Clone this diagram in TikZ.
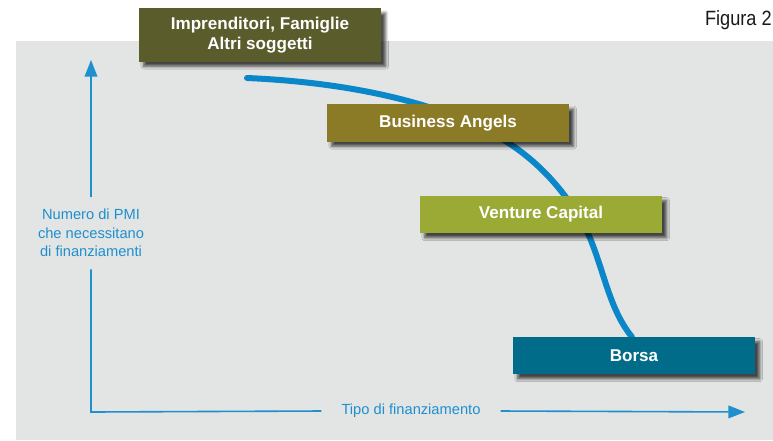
\documentclass[tikz,border=0pt]{standalone}
\usepackage{fontspec}
\setmainfont{Liberation Sans}
\newfontfamily\figfont[FakeStretch=0.88]{Liberation Sans}
\usepackage{tikz}
\usetikzlibrary{arrows.meta,shadows.blur}
\definecolor{bggray}{HTML}{E3E4E4}
\definecolor{axisblue}{HTML}{1E90CE}
\definecolor{curveblue}{HTML}{0A87C8}
\definecolor{olivedark}{HTML}{5B5C2C}
\definecolor{oliveang}{HTML}{8B7B27}
\definecolor{olivevc}{HTML}{9AAA35}
\definecolor{borsateal}{HTML}{006C89}
\tikzstyle{box} = [rectangle, minimum width=181.5pt, minimum height=28pt, inner sep=0pt, text=white, font=\fontsize{12.8}{14.5}\selectfont\bfseries, align=center, blur shadow={shadow xshift=3.5pt, shadow yshift=-3.5pt, shadow blur steps=8, shadow opacity=70}]
\tikzstyle{axisline} = [draw=axisblue, line width=1.2pt]
\tikzstyle{axis} = [axisline, -{Triangle[length=12.5pt,width=9.5pt]}]
\tikzstyle{axlabel} = [text=axisblue, font=\fontsize{11}{14}\selectfont, align=center]
\tikzstyle{curve} = [draw=curveblue, line width=4.5pt, line cap=round]

\begin{document}
\begin{tikzpicture}[x=0.75pt, y=-0.75pt]

\useasboundingbox (0,0) rectangle (773,440);
\fill[bggray] (16,41) rectangle (773,440);

\node[anchor=east, inner sep=0pt, text=black!90, font=\figfont\fontsize{15.5}{17}\selectfont] (fig) at (772,20) {Figura 2};

\coordinate (c0) at (247,78);
\coordinate (c1) at (632,337);
\draw[curve] (c0) .. controls (340,82) and (440,100) .. (507,142) .. controls (540,163) and (570,195) .. (590,238) .. controls (605,275) and (610,310) .. (c1);

\coordinate (o) at (91,412);
\coordinate (ytop) at (91,60);
\coordinate (xend) at (745,412);
\node[axlabel, inner xsep=2pt, inner ysep=9pt] (ylab) at (91,233) {Numero di PMI\\che necessitano\\di finanziamenti};
\node[axlabel, inner xsep=15pt, inner ysep=2pt] (xlab) at (411,411) {Tipo di finanziamento};
\draw[axisline] (ylab.south) -- (o) -- (xlab.west);
\draw[axis] (ylab.north) -- (ytop);
\draw[axis] (xlab.east) -- (xend);

\node[box, fill=olivedark, minimum height=40pt] (impr) at (260,35) {Imprenditori, Famiglie\\Altri soggetti};
\node[box, fill=oliveang] (angels) at (448,123) {Business Angels};
\node[box, fill=olivevc] (venture) at (541,214.5) {Venture Capital};
\node[box, fill=borsateal] (borsa) at (634,355.5) {Borsa};

\end{tikzpicture}
\end{document}
